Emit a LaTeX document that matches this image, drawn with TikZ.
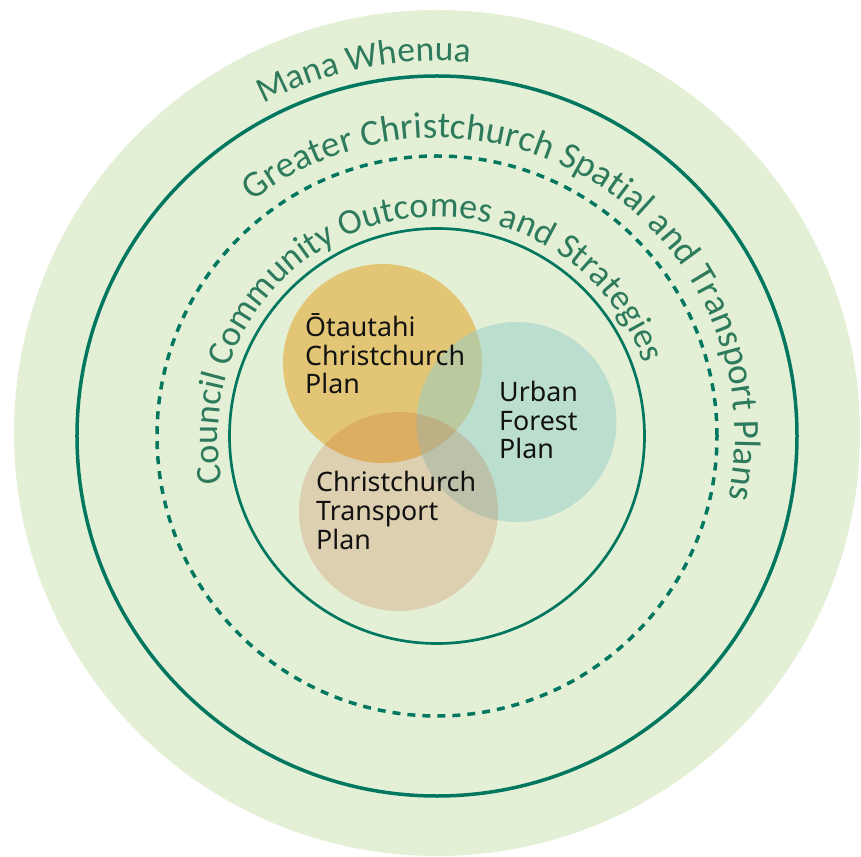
\documentclass[tikz,border=0pt]{standalone}
\usepackage{fontspec}
\setmainfont{Noto Sans}
\newfontfamily\ringfont{Carlito}
\usetikzlibrary{decorations.text}
\definecolor{ringbg}{RGB}{228,240,214}
\definecolor{ringline}{RGB}{0,119,94}
\definecolor{ringtext}{RGB}{46,122,92}
\definecolor{planorange}{RGB}{227,198,117}
\definecolor{planteal}{RGB}{148,205,202}
\definecolor{plantan}{RGB}{193,80,24}
\tikzset{
	ringlabel/.style={decorate,decoration={text along path,text align=center,text={#1}}},
	planlabel/.style={anchor=base west,align=left,inner sep=0pt,text=black!93,
		font=\fontsize{26.8}{28.7}\selectfont}
}

\begin{document}
\begin{tikzpicture}[x=1pt,y=1pt]
	\useasboundingbox (-437,-420) rectangle (424,436);
	\fill[ringbg] (0,3) circle[radius=423];
	\draw[ringline,line width=3.5pt] (0,0) circle[radius=360];
	\draw[ringline,line width=3.5pt,dash pattern=on 8pt off 7pt] (0,0) circle[radius=280];
	\draw[ringline,line width=2.7pt] (0,0) circle[radius=207.5];
	\path[ringlabel={|\ringfont\fontsize{35.6}{40}\selectfont\color{ringtext}|Mana Whenua}]
		(171.25:375) arc[start angle=171.25,end angle=31.25,radius=375];
	\path[ringlabel={|\ringfont\fontsize{36.9}{42}\selectfont\color{ringtext}|Greater Christchurch Spatial and Transport Plans}]
		(148:298) arc[start angle=148,end angle=-32,radius=298];
	\path[ringlabel={|\ringfont\fontsize{36}{41}\selectfont\color{ringtext}|Council Community Outcomes and Strategies}]
		(205.75:219) arc[start angle=205.75,end angle=5.75,radius=219];
	\fill[planorange] (-54.5,72.5) circle[radius=99.5];
	\fill[planteal,fill opacity=0.5] (79.5,14) circle[radius=100];
	\fill[plantan,fill opacity=0.2] (-38.5,-75.5) circle[radius=99.5];
	\node[planlabel] (otautahi) at (-132,42) {Ōtautahi\\Christchurch\\Plan};
	\node[planlabel] (urban) at (62,-23) {Urban\\Forest\\Plan};
	\node[planlabel] (transport) at (-121,-113) {Christchurch\\Transport\\Plan};
\end{tikzpicture}
\end{document}
